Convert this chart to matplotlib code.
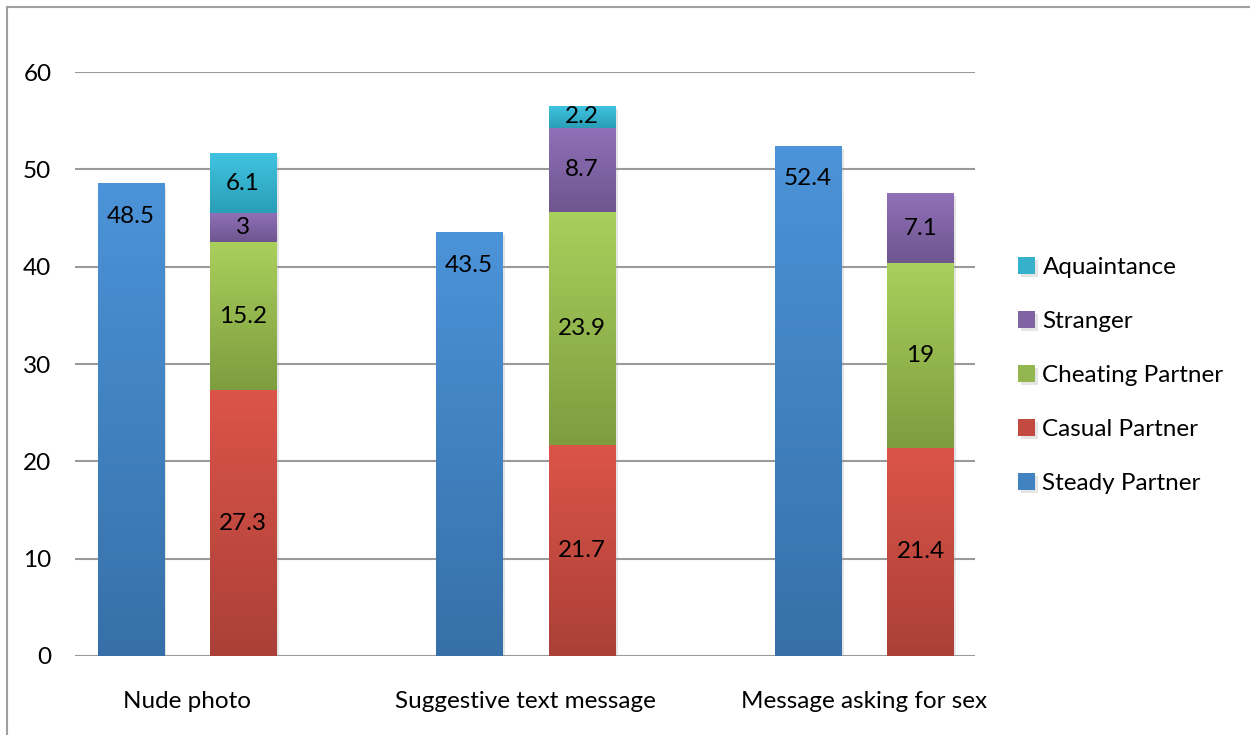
import numpy as np
import matplotlib
matplotlib.use("Agg")
import matplotlib.pyplot as plt
from matplotlib.colors import LinearSegmentedColormap
from matplotlib.patches import Rectangle
import matplotlib.patheffects as pe

plt.rcParams['font.family'] = ['Lato', 'DejaVu Sans']

categories = ["Nude photo", "Suggestive text message", "Message asking for sex"]
steady = [48.5, 43.5, 52.4]
casual = [27.3, 21.7, 21.4]
cheating = [15.2, 23.9, 19.0]
stranger = [3.0, 8.7, 7.1]
aquaintance = [6.1, 2.2, 0.0]

stack_names = ["Casual Partner", "Cheating Partner", "Stranger", "Aquaintance"]
stack_values = [casual, cheating, stranger, aquaintance]

# (top colour, bottom colour) for the excel style gradient
grads = {
    "Steady Partner": ("#4b93d8", "#3770a8"),
    "Casual Partner": ("#dc5449", "#ab4038"),
    "Cheating Partner": ("#a9cf5c", "#7e9d3f"),
    "Stranger": ("#9070b8", "#6e568f"),
    "Aquaintance": ("#40c3e0", "#2a9eb7"),
}

fig = plt.figure(figsize=(12.5, 7.35), dpi=100)
ax = fig.add_axes([0.06, 0.1075, 0.72, 0.7945])

x = np.arange(len(categories))
w = 0.195
off = 0.166
fs = 17.5


def mid(c):
    a = np.array(matplotlib.colors.to_rgb(c[0]))
    b = np.array(matplotlib.colors.to_rgb(c[1]))
    return (a + b) / 2


def shade(bars, name):
    cmap = LinearSegmentedColormap.from_list(name, [grads[name][1], grads[name][0]])
    grad = np.linspace(0, 1, 64).reshape(-1, 1)
    for b in bars:
        if b.get_height() <= 0:
            continue
        x0, y0 = b.get_x(), b.get_y()
        ax.imshow(grad, extent=[x0, x0 + b.get_width(), y0, y0 + b.get_height()],
                  origin='lower', aspect='auto', cmap=cmap, zorder=3)


shadow = [pe.SimplePatchShadow(offset=(2, -2), shadow_rgbFace='#999999', alpha=0.25), pe.Normal()]

handles = []
bars = ax.bar(x - off, steady, w, color=mid(grads["Steady Partner"]), zorder=2,
              path_effects=shadow, label="Steady Partner")
shade(bars, "Steady Partner")
handles.append(bars)
for b, v in zip(bars, steady):
    ax.annotate(f"{v:g}", (b.get_x() + b.get_width() / 2, v), xytext=(0, -33),
                textcoords='offset pixels', ha='center', va='center', fontsize=fs, zorder=5)

bottom = np.zeros(len(categories))
for name, vals in zip(stack_names, stack_values):
    vals = np.array(vals)
    bars = ax.bar(x + off, vals, w, bottom=bottom, color=mid(grads[name]), zorder=2,
                  path_effects=shadow, label=name)
    shade(bars, name)
    handles.append(bars)
    for b, v, b0 in zip(bars, vals, bottom):
        if v > 0:
            ax.text(b.get_x() + b.get_width() / 2, b0 + v / 2, f"{v:g}",
                    ha='center', va='center', fontsize=fs, zorder=5)
    bottom = bottom + vals

ax.set_xlim(-0.33, 2.327)
ax.set_ylim(0, 60)
ax.set_yticks(range(0, 61, 10))
ax.set_xticks(x)
ax.set_xticklabels(categories)
ax.grid(axis='y', color='#9a9a9a', linewidth=1.5, zorder=0)
ax.set_axisbelow(True)
for s in ax.spines.values():
    s.set_visible(False)
ax.tick_params(axis='both', length=0, labelsize=fs)
ax.tick_params(axis='y', pad=17)
ax.tick_params(axis='x', pad=25)

labels = ["Steady Partner"] + stack_names
leg = fig.legend(handles[::-1], labels[::-1], loc='center left',
                 bbox_to_anchor=(0.797, 0.489), frameon=False, fontsize=fs,
                 handlelength=0.7, handleheight=0.7, handletextpad=0.3,
                 labelspacing=1.35)

# outer chart border (only top and left edge fall inside the image)
fig.patches.append(Rectangle((7 / 1250, -0.2), 1.5, 1.2 - 7 / 735,
                             transform=fig.transFigure, fill=False,
                             edgecolor='#a0a0a0', linewidth=1.5))

fig.savefig("out.png", dpi=100)
